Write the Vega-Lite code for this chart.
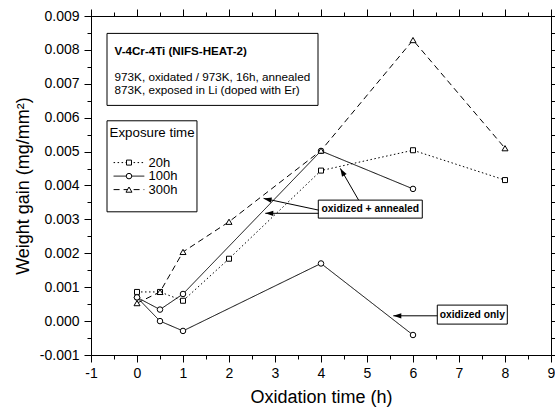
{
  "$schema": "https://vega.github.io/schema/vega-lite/v6.json",
  "width": 460,
  "height": 339,
  "autosize": "none",
  "padding": {"left": 91, "top": 16, "right": 4, "bottom": 53},
  "background": "white",
  "config": {
    "view": {"stroke": "black", "strokeWidth": 1},
    "font": "Liberation Sans",
    "text": {"font": "Liberation Sans", "color": "black"}
  },
  "datasets": {
    "series": [
      {"s": "20h", "line": "20h", "x": 0, "y": 0.00086},
      {"s": "20h", "line": "20h", "x": 0.5, "y": 0.00086},
      {"s": "20h", "line": "20h", "x": 1, "y": 0.0006},
      {"s": "20h", "line": "20h", "x": 2, "y": 0.00184},
      {"s": "20h", "line": "20h", "x": 4, "y": 0.00444},
      {"s": "20h", "line": "20h", "x": 6, "y": 0.00504},
      {"s": "20h", "line": "20h", "x": 8, "y": 0.00416},
      {"s": "100h", "line": "100h annealed", "x": 0, "y": 0.0007},
      {"s": "100h", "line": "100h annealed", "x": 0.5, "y": 0.00034},
      {"s": "100h", "line": "100h annealed", "x": 1, "y": 0.0008},
      {"s": "100h", "line": "100h annealed", "x": 4, "y": 0.00502},
      {"s": "100h", "line": "100h annealed", "x": 6, "y": 0.0039},
      {"s": "100h", "line": "100h oxidized", "x": 0, "y": 0.0007},
      {"s": "100h", "line": "100h oxidized", "x": 0.5, "y": 0.0},
      {"s": "100h", "line": "100h oxidized", "x": 1, "y": -0.00029},
      {"s": "100h", "line": "100h oxidized", "x": 4, "y": 0.0017},
      {"s": "100h", "line": "100h oxidized", "x": 6, "y": -0.00041},
      {"s": "300h", "line": "300h", "x": 0, "y": 0.00053},
      {"s": "300h", "line": "300h", "x": 0.5, "y": 0.00086},
      {"s": "300h", "line": "300h", "x": 1, "y": 0.00204},
      {"s": "300h", "line": "300h", "x": 2, "y": 0.00293},
      {"s": "300h", "line": "300h", "x": 4, "y": 0.00503},
      {"s": "300h", "line": "300h", "x": 6, "y": 0.00829},
      {"s": "300h", "line": "300h", "x": 8, "y": 0.0051}
    ],
    "leglines": [
      {"s": "20h", "x": -0.509, "x2": 0.159, "y": 0.004676},
      {"s": "100h", "x": -0.509, "x2": 0.159, "y": 0.004277},
      {"s": "300h", "x": -0.509, "x2": 0.159, "y": 0.003879}
    ],
    "legpts": [
      {"s": "20h", "x": -0.174, "y": 0.004676},
      {"s": "100h", "x": -0.174, "y": 0.004277},
      {"s": "300h", "x": -0.174, "y": 0.003879}
    ],
    "legtxt": [
      {"t": "20h", "x": 0.252, "y": 0.004676},
      {"t": "100h", "x": 0.252, "y": 0.004277},
      {"t": "300h", "x": 0.252, "y": 0.003879}
    ],
    "legtitle": [{"t": "Exposure time", "x": -0.596, "y": 0.005555}],
    "boxes": [
      {"x": -0.652, "x2": 3.935, "y": 0.006363, "y2": 0.008487},
      {"x": -0.652, "x2": 1.304, "y": 0.003224, "y2": 0.005909},
      {"x": 3.941, "x2": 6.202, "y": 0.003038, "y2": 0.003569},
      {"x": 6.528, "x2": 8.05, "y": -0.0000885, "y2": 0.000472}
    ],
    "titlebold": [{"t": "V-4Cr-4Ti (NIFS-HEAT-2)", "x": -0.487, "y": 0.007926}],
    "titlereg": [
      {"t": "973K, oxidated / 973K, 16h, annealed", "x": -0.487, "y": 0.007207},
      {"t": "873K, exposed in Li (doped with Er)", "x": -0.487, "y": 0.006814}
    ],
    "annot": [
      {"t": "oxidized + annealed", "x": 5.072, "y": 0.003304},
      {"t": "oxidized only", "x": 7.289, "y": 0.000192}
    ],
    "arrows": [
      {"id": "a1", "x": 3.948, "y": 0.003274, "x2": 2.752, "y2": 0.00362},
      {"id": "a2", "x": 3.948, "y": 0.00318, "x2": 2.789, "y2": 0.00318},
      {"id": "a3", "x": 4.817, "y": 0.00357, "x2": 4.42, "y2": 0.004505},
      {"id": "a4", "x": 6.528, "y": 0.000156, "x2": 5.572, "y2": 0.000156}
    ],
    "heads": [
      {"id": "a1", "x": 2.752, "y": 0.00362},
      {"id": "a2", "x": 2.789, "y": 0.00318},
      {"id": "a3", "x": 4.42, "y": 0.004505},
      {"id": "a4", "x": 5.572, "y": 0.000156}
    ],
    "dummy": [{"x": 0, "y": 0}]
  },
  "encoding": {
    "x": {"field": "x", "type": "quantitative", "scale": {"domain": [-1, 9], "nice": false, "zero": false}, "axis": null},
    "y": {"field": "y", "type": "quantitative", "scale": {"domain": [-0.001, 0.009], "nice": false, "zero": false}, "axis": null}
  },
  "layer": [
    {
      "data": {"name": "dummy"},
      "mark": {"type": "point", "opacity": 0},
      "encoding": {
        "x": {"field": "x", "type": "quantitative", "scale": {"domain": [-1, 9], "nice": false, "zero": false},
          "axis": {"orient": "bottom", "values": [-1, -0.5, 0, 0.5, 1, 1.5, 2, 2.5, 3, 3.5, 4, 4.5, 5, 5.5, 6, 6.5, 7, 7.5, 8, 8.5, 9],
            "labelExpr": "round(datum.value*2)%2==0 ? (datum.value<0?'-':'')+format(abs(datum.value),'d') : ''",
            "tickSize": {"condition": {"test": "round(datum.value*2)%2==0", "value": 7}, "value": 4},
            "title": "Oxidation time (h)", "titleFontSize": 18, "titleFontWeight": "normal", "titleFont": "Liberation Sans",
            "labelFont": "Liberation Sans", "labelFontSize": 14, "labelPadding": 4, "titlePadding": 8,
            "grid": false, "domainColor": "black", "tickColor": "black", "labelColor": "black", "titleColor": "black",
            "labelFlush": false, "labelOverlap": false, "labelBound": false}},
        "y": {"field": "y", "type": "quantitative", "scale": {"domain": [-0.001, 0.009], "nice": false, "zero": false},
          "axis": {"orient": "left", "values": [-0.001, -0.0005, 0, 0.0005, 0.001, 0.0015, 0.002, 0.0025, 0.003, 0.0035, 0.004, 0.0045, 0.005, 0.0055, 0.006, 0.0065, 0.007, 0.0075, 0.008, 0.0085, 0.009],
            "labelExpr": "round(datum.value*2000)%2==0 ? (datum.value< -0.00000001?'-':'')+format(abs(datum.value),'.3f') : ''",
            "tickSize": {"condition": {"test": "round(datum.value*2000)%2==0", "value": 7}, "value": 4},
            "title": "Weight gain (mg/mm²)", "titleFontSize": 18, "titleFontWeight": "normal", "titleFont": "Liberation Sans",
            "labelFont": "Liberation Sans", "labelFontSize": 14, "labelPadding": 5, "titlePadding": 7,
            "grid": false, "domainColor": "black", "tickColor": "black", "labelColor": "black", "titleColor": "black",
            "labelFlush": false, "labelOverlap": false, "labelBound": false}}
      }
    },
    {
      "data": {"name": "dummy"},
      "mark": {"type": "point", "opacity": 0},
      "encoding": {
        "x": {"field": "x", "type": "quantitative", "scale": {"domain": [-1, 9], "nice": false, "zero": false},
          "axis": {"orient": "top", "values": [-1, -0.5, 0, 0.5, 1, 1.5, 2, 2.5, 3, 3.5, 4, 4.5, 5, 5.5, 6, 6.5, 7, 7.5, 8, 8.5, 9],
            "labels": false, "title": null,
            "tickSize": {"condition": {"test": "round(datum.value*2)%2==0", "value": 7}, "value": 4},
            "grid": false, "domainColor": "black", "tickColor": "black"}},
        "y": {"field": "y", "type": "quantitative", "scale": {"domain": [-0.001, 0.009], "nice": false, "zero": false},
          "axis": {"orient": "right", "values": [-0.001, -0.0005, 0, 0.0005, 0.001, 0.0015, 0.002, 0.0025, 0.003, 0.0035, 0.004, 0.0045, 0.005, 0.0055, 0.006, 0.0065, 0.007, 0.0075, 0.008, 0.0085, 0.009],
            "labels": false, "title": null,
            "tickSize": {"condition": {"test": "round(datum.value*2000)%2==0", "value": 7}, "value": 4},
            "grid": false, "domainColor": "black", "tickColor": "black"}}
      }
    },
    {
      "data": {"name": "series"},
      "mark": {"type": "line", "color": "black", "strokeWidth": 1},
      "encoding": {
        "detail": {"field": "line"},
        "strokeDash": {"field": "s", "type": "nominal", "scale": {"domain": ["20h", "100h", "300h"], "range": [[1.5, 2.5], [1, 0], [6, 4]]}, "legend": null}
      }
    },
    {
      "data": {"name": "leglines"},
      "mark": {"type": "rule", "color": "black", "strokeWidth": 1},
      "encoding": {
        "x2": {"field": "x2"},
        "strokeDash": {"field": "s", "type": "nominal", "scale": {"domain": ["20h", "100h", "300h"], "range": [[1.5, 2.5], [1, 0], [6, 4]]}, "legend": null}
      }
    },
    {
      "data": {"name": "series"},
      "mark": {"type": "point", "filled": true, "fill": "white", "stroke": "black", "strokeWidth": 1, "opacity": 1},
      "encoding": {
        "shape": {"field": "s", "type": "nominal", "scale": {"domain": ["20h", "100h", "300h"], "range": ["square", "circle", "triangle-up"]}, "legend": null},
        "size": {"field": "s", "type": "nominal", "scale": {"domain": ["20h", "100h", "300h"], "range": [25, 36, 60]}, "legend": null}
      }
    },
    {
      "data": {"name": "legpts"},
      "mark": {"type": "point", "filled": true, "fill": "white", "stroke": "black", "strokeWidth": 1, "opacity": 1},
      "encoding": {
        "shape": {"field": "s", "type": "nominal", "scale": {"domain": ["20h", "100h", "300h"], "range": ["square", "circle", "triangle-up"]}, "legend": null},
        "size": {"field": "s", "type": "nominal", "scale": {"domain": ["20h", "100h", "300h"], "range": [25, 36, 60]}, "legend": null}
      }
    },
    {
      "data": {"name": "legtxt"},
      "mark": {"type": "text", "align": "left", "baseline": "middle", "fontSize": 13},
      "encoding": {"text": {"field": "t"}}
    },
    {
      "data": {"name": "boxes"},
      "mark": {"type": "rect", "fill": "white", "fillOpacity": 0, "stroke": "black", "strokeWidth": 1},
      "encoding": {"x2": {"field": "x2"}, "y2": {"field": "y2"}}
    },
    {
      "data": {"name": "legtitle"},
      "mark": {"type": "text", "align": "left", "baseline": "middle", "fontSize": 13.3},
      "encoding": {"text": {"field": "t"}}
    },
    {
      "data": {"name": "titlebold"},
      "mark": {"type": "text", "align": "left", "baseline": "middle", "fontSize": 11.6, "fontWeight": "bold"},
      "encoding": {"text": {"field": "t"}}
    },
    {
      "data": {"name": "titlereg"},
      "mark": {"type": "text", "align": "left", "baseline": "middle", "fontSize": 11.7},
      "encoding": {"text": {"field": "t"}}
    },
    {
      "data": {"name": "annot"},
      "mark": {"type": "text", "align": "center", "baseline": "middle", "fontSize": 10.3, "fontWeight": "bold"},
      "encoding": {"text": {"field": "t"}}
    },
    {
      "data": {"name": "arrows"},
      "mark": {"type": "rule", "color": "black", "strokeWidth": 1},
      "encoding": {"x2": {"field": "x2"}, "y2": {"field": "y2"}}
    },
    {
      "data": {"name": "heads"},
      "transform": [{"filter": "datum.id == 'a2' || datum.id == 'a4'"}],
      "mark": {"type": "point", "shape": "M0,0L1,-0.33L1,0.33Z", "size": 256, "filled": true, "color": "black", "opacity": 1, "angle": 0}
    },
    {
      "data": {"name": "heads"},
      "transform": [{"filter": "datum.id == 'a1'"}],
      "mark": {"type": "point", "shape": "M0,0L1,-0.33L1,0.33Z", "size": 256, "filled": true, "color": "black", "opacity": 1, "angle": 12}
    },
    {
      "data": {"name": "heads"},
      "transform": [{"filter": "datum.id == 'a3'"}],
      "mark": {"type": "point", "shape": "M0,0L1,-0.33L1,0.33Z", "size": 256, "filled": true, "color": "black", "opacity": 1, "angle": 60}
    }
  ],
  "resolve": {"axis": {"x": "independent", "y": "independent"}}
}
